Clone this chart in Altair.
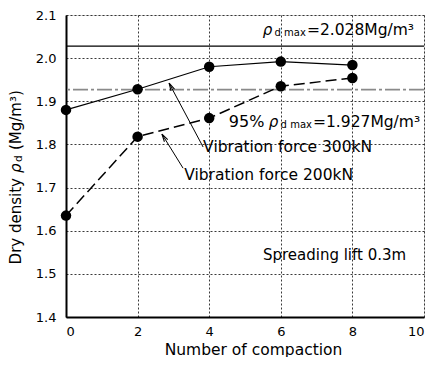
import altair as alt
import pandas as pd

# ---- data ----
compaction = [0, 2, 4, 6, 8]
density_300 = [1.880, 1.928, 1.980, 1.992, 1.984]
density_200 = [1.635, 1.818, 1.861, 1.935, 1.954]
rho_max = 2.028
rho_95 = 1.927
x_ticks = list(range(0, 11))
y_ticks = [1.4, 1.5, 1.6, 1.7, 1.8, 1.9, 2.0, 2.1]

FONT = "DejaVu Sans"
W, H = 358, 302

xs = alt.Scale(domain=[0, 10], nice=False, zero=False)
ys = alt.Scale(domain=[1.4, 2.1], nice=False, zero=False)

df300 = pd.DataFrame({"x": compaction, "y": density_300})
df200 = pd.DataFrame({"x": compaction, "y": density_200})

grid_axis_x = alt.Axis(values=x_ticks, labelExpr="datum.value % 2 == 0 ? datum.label : ''",
                       grid=True, gridDash=[2, 2], gridColor="#222", gridWidth=0.9,
                       ticks=False, labelPadding=8, labelFontSize=13, labelFont=FONT,
                       labelColor="black", domainColor="black", domainWidth=2,
                       title="Number of compaction", titleFont=FONT, titleFontSize=15.5,
                       titleFontWeight="normal", titleColor="black", titleX=187, titleY=37,
                       titleBaseline="alphabetic")
grid_axis_y = alt.Axis(values=y_ticks, format=".1f",
                       grid=True, gridDash=[2, 2], gridColor="#222", gridWidth=0.9,
                       ticks=False, labelPadding=10, labelFontSize=13, labelFont=FONT,
                       labelColor="black", domainColor="black", domainWidth=2, title=None)

base300 = alt.Chart(df300).encode(x=alt.X("x:Q", scale=xs, axis=grid_axis_x),
                                  y=alt.Y("y:Q", scale=ys, axis=grid_axis_y))
line300 = base300.mark_line(color="black", strokeWidth=1.2)
pts300 = base300.mark_point(filled=True, color="black", size=110, opacity=1)

base200 = alt.Chart(df200).encode(x=alt.X("x:Q", scale=xs), y=alt.Y("y:Q", scale=ys))
line200 = base200.mark_line(color="black", strokeWidth=1.5, strokeDash=[11, 5])
pts200 = base200.mark_point(filled=True, color="black", size=110, opacity=1)

ref_max = alt.Chart(pd.DataFrame({"y": [rho_max]})).mark_rule(color="black", strokeWidth=1.2).encode(
    y=alt.Y("y:Q", scale=ys))
ref_95 = alt.Chart(pd.DataFrame({"y": [rho_95]})).mark_rule(
    color="#8a8a8a", strokeWidth=1.6, strokeDash=[15, 3, 3, 3]).encode(y=alt.Y("y:Q", scale=ys))

# arrows
arrows = pd.DataFrame({"x": [3.83, 3.27], "y": [1.794, 1.745],
                       "x2": [2.88, 2.68], "y2": [1.942, 1.824]})
arrow_lines = alt.Chart(arrows).mark_rule(color="black", strokeWidth=1).encode(
    x=alt.X("x:Q", scale=xs), y=alt.Y("y:Q", scale=ys), x2="x2:Q", y2="y2:Q")
heads = pd.DataFrame({"x": [2.88, 2.68], "y": [1.942, 1.824], "a": [332, 328]})
arrow_heads = alt.Chart(heads).mark_point(
    shape="M-0.3,1.2 L0,0 L0.3,1.2", filled=False, color="black", strokeWidth=1.1, size=170, opacity=1
).encode(x=alt.X("x:Q", scale=xs), y=alt.Y("y:Q", scale=ys), angle=alt.Angle("a:Q", scale=None))


def txt(x, y, text, size=15, italic=False, align="left"):
    return alt.Chart(pd.DataFrame({"x": [x], "y": [y], "t": [text]})).mark_text(
        font=FONT, fontSize=size, fontStyle="italic" if italic else "normal",
        align=align, baseline="middle", color="black"
    ).encode(x=alt.X("x:Q", scale=xs), y=alt.Y("y:Q", scale=ys), text="t:N")


def vtxt(px, py, text, size=15, italic=False, align="left"):
    return alt.Chart(pd.DataFrame({"t": [text]})).mark_text(
        font=FONT, fontSize=size, fontStyle="italic" if italic else "normal",
        align=align, baseline="middle", color="black", angle=270
    ).encode(x=alt.value(px), y=alt.value(py), text="t:N")


notes = [
    # rho_d max box
    txt(5.76, 2.065, "ρ", 15, italic=True, align="right"),
    txt(6.70, 2.058, "d max", 10, align="right"),
    txt(6.73, 2.065, "=2.028Mg/m³", 15.5),
    # 95% rho_d max
    txt(5.54, 1.853, "95%", 16, align="right"),
    txt(5.93, 1.853, "ρ", 15, italic=True, align="right"),
    txt(6.87, 1.846, "d max", 10, align="right"),
    txt(6.90, 1.853, "=1.927Mg/m³", 15.5),
    txt(3.83, 1.795, "Vibration force 300kN", 15.5),
    txt(3.30, 1.730, "Vibration force 200kN", 15.5),
    txt(5.50, 1.543, "Spreading lift 0.3m", 15),
    # y axis title
    vtxt(-50, 163, "Dry density", 15, align="right"),
    vtxt(-50, 158, "ρ", 15, italic=True),
    vtxt(-47, 147, "d", 10.5),
    vtxt(-50, 135, "(Mg/m³)", 15),
]

chart = alt.layer(ref_95, ref_max, line300, line200, arrow_lines, arrow_heads, pts300, pts200, *notes).properties(
    width=W, height=H,
    autosize=alt.AutoSizeParams(type="none"),
    padding={"left": 58, "top": 7, "right": 7, "bottom": 40},
).configure_view(stroke="black", strokeWidth=1.2).configure(background="white")

chart.save("out.html", embed_options={"renderer": "svg", "actions": False})
